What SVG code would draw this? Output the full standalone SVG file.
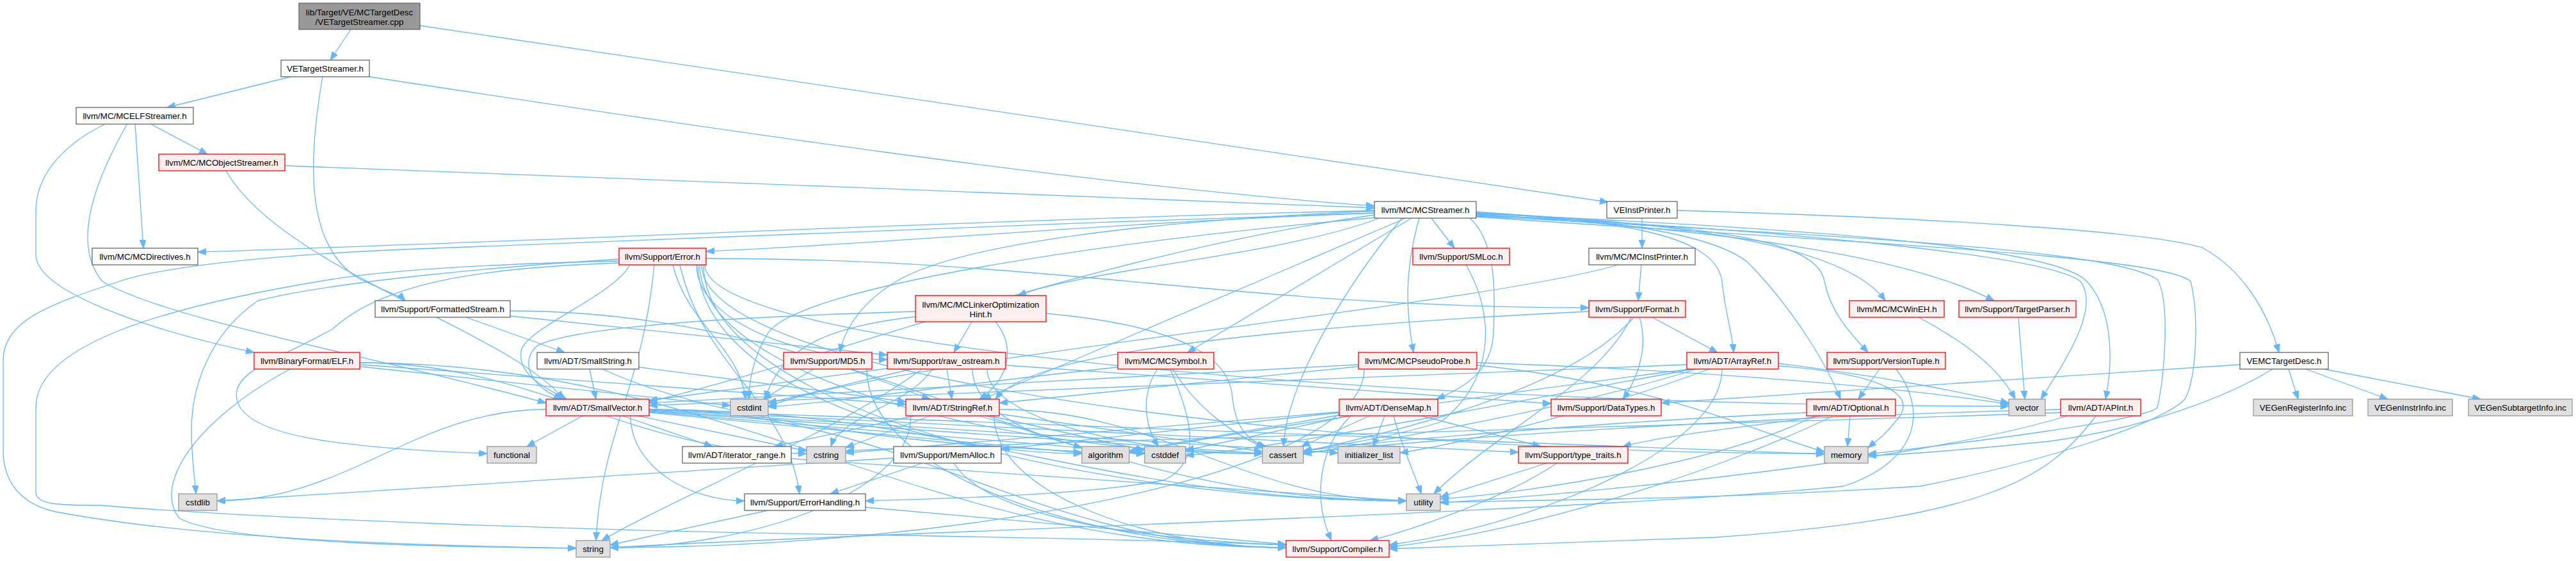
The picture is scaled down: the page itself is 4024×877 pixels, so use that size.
<svg xmlns="http://www.w3.org/2000/svg" width="4024" height="877" viewBox="0 0 4024 877">
<style>
.e{fill:none;stroke:#63b8ff;stroke-width:1.3;marker-end:url(#ah)}
.b rect{fill:#ffffff;stroke:#666666;stroke-width:1.3}
.r rect{fill:#fff0f0;stroke:#ff0000;stroke-width:1.3}
.g rect{fill:#e0e0e0;stroke:#999999;stroke-width:1.3}
.k rect{fill:#999999;stroke:#666666;stroke-width:1.3}
text{font-family:"Liberation Sans",Arial,Helvetica,sans-serif;font-size:13.33px;fill:#000000;text-anchor:middle}
</style>
<defs>
<marker id="ah" markerWidth="14" markerHeight="11" refX="13" refY="5" orient="auto" markerUnits="userSpaceOnUse">
<path d="M0,0 L13,5 L0,10 z" fill="#63b8ff" stroke="#63b8ff" stroke-width="1"/>
</marker>
</defs>
<rect x="0" y="0" width="4024" height="877" fill="#ffffff"/>
<g id="edges">
<path class="e" d="M548,46 L516,94"/>
<path class="e" d="M656,40 L2512,316"/>
<path class="e" d="M458,119 L261,168"/>
<path class="e" d="M577,120 C1100,200 1700,290 2147,322"/>
<path class="e" d="M504,119 C485,230 470,380 560,435 C600,455 625,462 633,470"/>
<path class="e" d="M234,193 L324,241"/>
<path class="e" d="M211,193 L224,388"/>
<path class="e" d="M166,193 C90,230 56,280 56,330 L56,400 C60,460 250,520 397,551"/>
<path class="e" d="M199,193 C150,280 110,380 160,440 C260,500 600,560 853,630"/>
<path class="e" d="M445,259 C900,275 1700,308 2147,325"/>
<path class="e" d="M353,267 C440,420 800,520 880,624"/>
<path class="e" d="M2147,329 C1500,345 900,375 309,394"/>
<path class="e" d="M2147,333 C1700,350 1400,380 1103,393"/>
<path class="e" d="M2155,341 C2000,400 1700,420 1590,462"/>
<path class="e" d="M2217,341 C2195,420 2195,480 2208,551"/>
<path class="e" d="M2236,341 L2272,388"/>
<path class="e" d="M2306,333 C2600,345 2880,380 2945,470"/>
<path class="e" d="M2306,335 C2700,360 2980,400 3115,470"/>
<path class="e" d="M2306,337 C2700,350 2840,380 2850,440 C2860,490 2890,520 2918,551"/>
<path class="e" d="M2306,331 C2500,345 2680,360 2690,440 C2695,490 2706,520 2708,551"/>
<path class="e" d="M2296,341 C2340,380 2335,470 2333,520 C2330,580 2290,605 2244,624"/>
<path class="e" d="M2306,333 C2550,345 2680,370 2730,410 C2790,470 2850,560 2875,624"/>
<path class="e" d="M2306,334 C2900,360 3200,390 3257,437 C3300,480 3302,560 3289,624"/>
<path class="e" d="M2147,336 C1700,400 1300,560 1014,628"/>
<path class="e" d="M2196,341 L1535,624"/>
<path class="e" d="M2205,341 L1855,551"/>
<path class="e" d="M2147,330 C1800,345 1500,380 1400,440 C1350,470 1320,510 1312,551"/>
<path class="e" d="M2190,341 C2100,450 2010,600 2005,698"/>
<path class="e" d="M2150,340 C1700,380 1250,450 1200,520 C1175,560 1170,600 1170,624"/>
<path class="e" d="M2306,338 C2900,370 3300,390 3370,437 C3390,470 3382,587 3370,637 C3350,660 3000,700 2918,710"/>
<path class="e" d="M2147,333 C1600,350 900,380 680,388 C450,396 260,415 186,440 C80,475 5,500 5,564 L5,704 C5,760 40,790 87,800 C300,840 600,852 900,857"/>
<path class="e" d="M2306,339 C2900,380 3380,400 3422,440 C3435,490 3432,590 3413,624 C3380,660 3200,720 3000,760 C2700,780 2400,782 2250,785"/>
<path class="e" d="M2306,336 C2800,360 3200,400 3250,440 C3280,480 3230,560 3188,624"/>
<path class="e" d="M2565,341 L2565,388"/>
<path class="e" d="M2620,329 C3000,340 3350,360 3440,387 C3500,420 3540,480 3560,551"/>
<path class="e" d="M2564,414 L2559,470"/>
<path class="e" d="M2528,414 C2300,480 1400,560 1200,635"/>
<path class="e" d="M3575,577 L3590,624"/>
<path class="e" d="M3602,577 L3730,624"/>
<path class="e" d="M3630,577 L3875,624"/>
<path class="e" d="M3499,570 C3200,590 2800,615 2595,630"/>
<path class="e" d="M3550,577 C3480,620 3350,670 3200,690 C3050,705 2960,712 2918,712"/>
<path class="e" d="M984,414 C960,460 830,510 815,545 C805,585 850,605 885,624"/>
<path class="e" d="M967,408 C800,412 620,420 516,437 C250,480 56,540 56,637 L56,770 C56,790 100,790 156,790 C400,810 900,830 1350,836 C1700,842 1900,848 2009,852"/>
<path class="e" d="M1062,414 C1099,575 1230,629 1249,772"/>
<path class="e" d="M1103,404 C1655,404 1930,481 2482,481"/>
<path class="e" d="M1088,414 C1088,503 1252,562 1386,562"/>
<path class="e" d="M1090,414 C1095,591 1423,709 1690,709"/>
<path class="e" d="M1093,414 C1093,591 1577,709 1972,709"/>
<path class="e" d="M1051,414 C1074,508 1154,540 1165,624"/>
<path class="e" d="M967,405 C800,415 520,440 403,470 C330,520 300,600 299,670 C299,720 305,750 306,772"/>
<path class="e" d="M967,411 C760,418 600,440 520,514 C440,560 360,580 370,624 C380,680 520,700 761,709"/>
<path class="e" d="M1096,414 C1096,591 2060,709 2850,709"/>
<path class="e" d="M1022,414 C1004,608 940,673 931,845"/>
<path class="e" d="M1099,414 C1099,635 1702,783 2197,783"/>
<path class="e" d="M1101,414 C1101,547 2219,635 3138,635"/>
<path class="e" d="M728,496 L882,551"/>
<path class="e" d="M797,494 L1386,555"/>
<path class="e" d="M797,486 C1357,486 1637,783 2197,783"/>
<path class="e" d="M562,570 L1415,632"/>
<path class="e" d="M562,567 C1141,567 1430,856 2009,856"/>
<path class="e" d="M562,573 L1141,634"/>
<path class="e" d="M562,567 C841,567 981,709 1260,709"/>
<path class="e" d="M453,577 C300,660 240,760 280,810 C350,850 700,855 900,857"/>
<path class="e" d="M921,577 L931,624"/>
<path class="e" d="M998,574 L1415,628"/>
<path class="e" d="M941,577 C1100,650 1400,700 1788,709"/>
<path class="e" d="M1328,577 L1453,624"/>
<path class="e" d="M1354,577 C1354,744 1714,856 2009,856"/>
<path class="e" d="M1271,577 L1192,624"/>
<path class="e" d="M972,650 L1113,698"/>
<path class="e" d="M1014,640 C1412,640 1611,856 2009,856"/>
<path class="e" d="M1014,641 L2372,707"/>
<path class="e" d="M1014,645 L1690,708"/>
<path class="e" d="M1014,643 L1972,709"/>
<path class="e" d="M1014,644 L1788,708"/>
<path class="e" d="M853,640 C647,640 545,783 339,783"/>
<path class="e" d="M996,650 L1260,705"/>
<path class="e" d="M910,650 L823,698"/>
<path class="e" d="M1014,642 L2090,708"/>
<path class="e" d="M1014,640 L2850,710"/>
<path class="e" d="M1014,640 C1487,640 1724,783 2197,783"/>
<path class="e" d="M985,650 C985,730 1077,783 1163,783"/>
<path class="e" d="M1236,717 L2197,783"/>
<path class="e" d="M1352,793 L2009,851"/>
<path class="e" d="M1199,798 L953,852"/>
<path class="e" d="M1430,487 C1150,495 900,510 840,540 C815,560 820,600 878,624"/>
<path class="e" d="M1555,503 C1585,540 1580,590 1530,624"/>
<path class="e" d="M1518,503 L1490,551"/>
<path class="e" d="M1634,490 C1850,510 1920,560 1925,620 C1930,670 1950,690 1978,698"/>
<path class="e" d="M1430,495 C1300,510 1220,540 1195,624"/>
<path class="e" d="M1386,576 L1014,626"/>
<path class="e" d="M1479,577 L1487,624"/>
<path class="e" d="M1571,571 L2423,631"/>
<path class="e" d="M1542,577 C1542,656 1778,709 1972,709"/>
<path class="e" d="M1519,577 C1519,656 1667,709 1788,709"/>
<path class="e" d="M1424,577 L1200,630"/>
<path class="e" d="M1456,577 C1424,631 1314,650 1298,698"/>
<path class="e" d="M1440,577 C1300,680 1050,780 940,845"/>
<path class="e" d="M1828,577 C1860,650 1880,720 1820,750 C1700,775 1450,780 1352,783"/>
<path class="e" d="M1832,577 C1870,640 1930,680 1975,700"/>
<path class="e" d="M1808,577 C1780,620 1790,670 1810,698"/>
<path class="e" d="M1746,574 C1500,600 1300,630 1200,636"/>
<path class="e" d="M1429,650 L1210,698"/>
<path class="e" d="M1553,650 C1553,774 1804,856 2009,856"/>
<path class="e" d="M1530,650 L1690,700"/>
<path class="e" d="M1561,647 L1972,706"/>
<path class="e" d="M1546,650 L1788,704"/>
<path class="e" d="M1453,650 L1321,700"/>
<path class="e" d="M1423,650 C1423,774 1164,856 953,856"/>
<path class="e" d="M1561,640 C1815,640 1943,783 2197,783"/>
<path class="e" d="M1490,724 C1530,790 1700,840 2009,852"/>
<path class="e" d="M1441,724 L1297,772"/>
<path class="e" d="M1396,716 L339,783"/>
<path class="e" d="M2581,496 L2683,551"/>
<path class="e" d="M2482,487 C2200,500 1800,530 1650,575 C1600,590 1570,605 1555,624"/>
<path class="e" d="M2561,496 C2575,540 2560,590 2535,624"/>
<path class="e" d="M2552,496 C2480,580 2300,650 2036,706"/>
<path class="e" d="M2548,496 C2500,600 2330,680 2240,772"/>
<path class="e" d="M2122,570 C1700,590 1300,615 1014,630"/>
<path class="e" d="M2122,573 L1561,630"/>
<path class="e" d="M2307,571 C2600,600 2780,690 2850,706"/>
<path class="e" d="M2131,577 C2131,744 1483,856 953,856"/>
<path class="e" d="M2307,567 C2700,580 3000,610 3138,632"/>
<path class="e" d="M2635,570 C2000,590 1400,620 1014,634"/>
<path class="e" d="M2690,577 C2690,700 2400,820 2170,852"/>
<path class="e" d="M2640,577 C2300,620 1900,680 1764,708"/>
<path class="e" d="M2650,577 C2450,640 2150,690 2036,710"/>
<path class="e" d="M2645,577 C2300,640 2000,700 1852,712"/>
<path class="e" d="M2670,577 C2500,640 2300,690 2187,708"/>
<path class="e" d="M2778,572 C2950,585 3000,620 2960,660 C2945,680 2930,690 2918,700"/>
<path class="e" d="M2778,568 C2950,590 3050,610 3138,630"/>
<path class="e" d="M2110,650 C2060,700 2050,780 2080,845"/>
<path class="e" d="M2092,645 L1564,702"/>
<path class="e" d="M2220,650 L2407,698"/>
<path class="e" d="M2140,650 L2033,698"/>
<path class="e" d="M2108,650 L1852,704"/>
<path class="e" d="M2092,649 L1764,705"/>
<path class="e" d="M2092,644 L1321,708"/>
<path class="e" d="M2163,650 L2145,698"/>
<path class="e" d="M2177,650 C2190,700 2210,740 2220,772"/>
<path class="e" d="M2432,724 C2350,780 2200,830 2140,845"/>
<path class="e" d="M2416,724 L2250,777"/>
<path class="e" d="M2290,414 C2340,500 2330,600 2250,660 C2150,690 2060,700 2036,705"/>
<path class="e" d="M2997,496 C3060,530 3120,570 3148,624"/>
<path class="e" d="M3153,496 L3163,624"/>
<path class="e" d="M2936,577 L2903,624"/>
<path class="e" d="M2962,577 C3010,640 3000,720 2880,760 C2500,800 1300,835 953,856"/>
<path class="e" d="M2890,650 L2886,698"/>
<path class="e" d="M2864,650 C2700,730 2400,830 2170,855"/>
<path class="e" d="M2847,650 C2750,665 2600,680 2535,698"/>
<path class="e" d="M2822,645 C2500,660 2150,690 2036,705"/>
<path class="e" d="M2835,650 C2700,720 2400,770 2250,780"/>
<path class="e" d="M3274,650 C3200,750 3100,810 2680,840 C2400,850 2250,855 2170,858"/>
<path class="e" d="M3219,640 C2800,650 2300,680 2036,708"/>
<path class="e" d="M3219,645 C2500,670 1600,690 1321,705"/>
<path class="e" d="M3230,650 C3000,720 2500,770 2250,786"/>
</g>
<g id="node-root" class="k"><rect x="467" y="5" width="189" height="41"/><text x="561.5" y="23.5">lib/Target/VE/MCTargetDesc</text><text x="561.5" y="38.5">/VETargetStreamer.cpp</text></g>
<g id="node-VETargetStreamer" class="b"><rect x="439" y="94" width="138" height="26"/><text x="508" y="111.7">VETargetStreamer.h</text></g>
<g id="node-VEInstPrinter" class="b"><rect x="2510" y="315" width="110" height="26"/><text x="2565" y="332.7">VEInstPrinter.h</text></g>
<g id="node-MCELFStreamer" class="b"><rect x="119" y="168" width="183" height="26"/><text x="210.5" y="185.7">llvm/MC/MCELFStreamer.h</text></g>
<g id="node-MCObjectStreamer" class="r"><rect x="248" y="241" width="197" height="26"/><text x="346.5" y="258.7">llvm/MC/MCObjectStreamer.h</text></g>
<g id="node-MCDirectives" class="b"><rect x="144" y="388" width="165" height="26"/><text x="226.5" y="405.7">llvm/MC/MCDirectives.h</text></g>
<g id="node-MCStreamer" class="b"><rect x="2147" y="315" width="159" height="26"/><text x="2226.5" y="332.7">llvm/MC/MCStreamer.h</text></g>
<g id="node-Error" class="r"><rect x="967" y="388" width="136" height="26"/><text x="1035" y="405.7">llvm/Support/Error.h</text></g>
<g id="node-FormattedStream" class="b"><rect x="586" y="470" width="211" height="26"/><text x="691.5" y="487.7">llvm/Support/FormattedStream.h</text></g>
<g id="node-ELF" class="r"><rect x="397" y="551" width="165" height="26"/><text x="479.5" y="568.7">llvm/BinaryFormat/ELF.h</text></g>
<g id="node-cstdlib" class="g"><rect x="279" y="772" width="60" height="26"/><text x="309" y="789.7">cstdlib</text></g>
<g id="node-SmallString" class="b"><rect x="839" y="551" width="159" height="26"/><text x="918.5" y="568.7">llvm/ADT/SmallString.h</text></g>
<g id="node-MD5" class="r"><rect x="1224" y="551" width="138" height="26"/><text x="1293" y="568.7">llvm/Support/MD5.h</text></g>
<g id="node-SmallVector" class="r"><rect x="853" y="624" width="161" height="26"/><text x="933.5" y="641.7">llvm/ADT/SmallVector.h</text></g>
<g id="node-cstdint" class="g"><rect x="1141" y="624" width="59" height="26"/><text x="1170.5" y="641.7">cstdint</text></g>
<g id="node-functional" class="g"><rect x="761" y="698" width="77" height="26"/><text x="799.5" y="715.7">functional</text></g>
<g id="node-iterator_range" class="b"><rect x="1066" y="698" width="170" height="26"/><text x="1151" y="715.7">llvm/ADT/iterator_range.h</text></g>
<g id="node-cstring" class="g"><rect x="1260" y="698" width="61" height="26"/><text x="1290.5" y="715.7">cstring</text></g>
<g id="node-ErrorHandling" class="b"><rect x="1163" y="772" width="189" height="26"/><text x="1257.5" y="789.7">llvm/Support/ErrorHandling.h</text></g>
<g id="node-string" class="g"><rect x="900" y="845" width="53" height="26"/><text x="926.5" y="862.7">string</text></g>
<g id="node-MCLinkerOptimizationHint" class="r"><rect x="1430" y="462" width="204" height="41"/><text x="1532" y="480.5">llvm/MC/MCLinkerOptimization</text><text x="1532" y="495.5">Hint.h</text></g>
<g id="node-raw_ostream" class="r"><rect x="1386" y="551" width="185" height="26"/><text x="1478.5" y="568.7">llvm/Support/raw_ostream.h</text></g>
<g id="node-MCSymbol" class="r"><rect x="1746" y="551" width="150" height="26"/><text x="1821" y="568.7">llvm/MC/MCSymbol.h</text></g>
<g id="node-StringRef" class="r"><rect x="1415" y="624" width="146" height="26"/><text x="1488" y="641.7">llvm/ADT/StringRef.h</text></g>
<g id="node-MemAlloc" class="b"><rect x="1396" y="698" width="168" height="26"/><text x="1480" y="715.7">llvm/Support/MemAlloc.h</text></g>
<g id="node-algorithm" class="g"><rect x="1690" y="698" width="74" height="26"/><text x="1727" y="715.7">algorithm</text></g>
<g id="node-cstddef" class="g"><rect x="1788" y="698" width="64" height="26"/><text x="1820" y="715.7">cstddef</text></g>
<g id="node-cassert" class="g"><rect x="1972" y="698" width="64" height="26"/><text x="2004" y="715.7">cassert</text></g>
<g id="node-Compiler" class="r"><rect x="2009" y="845" width="161" height="26"/><text x="2089.5" y="862.7">llvm/Support/Compiler.h</text></g>
<g id="node-Format" class="r"><rect x="2482" y="470" width="151" height="26"/><text x="2557.5" y="487.7">llvm/Support/Format.h</text></g>
<g id="node-MCPseudoProbe" class="r"><rect x="2122" y="551" width="185" height="26"/><text x="2214.5" y="568.7">llvm/MC/MCPseudoProbe.h</text></g>
<g id="node-ArrayRef" class="r"><rect x="2635" y="551" width="143" height="26"/><text x="2706.5" y="568.7">llvm/ADT/ArrayRef.h</text></g>
<g id="node-DenseMap" class="r"><rect x="2092" y="624" width="154" height="26"/><text x="2169" y="641.7">llvm/ADT/DenseMap.h</text></g>
<g id="node-DataTypes" class="r"><rect x="2423" y="624" width="172" height="26"/><text x="2509" y="641.7">llvm/Support/DataTypes.h</text></g>
<g id="node-initializer_list" class="g"><rect x="2090" y="698" width="97" height="26"/><text x="2138.5" y="715.7">initializer_list</text></g>
<g id="node-type_traits" class="r"><rect x="2372" y="698" width="171" height="26"/><text x="2457.5" y="715.7">llvm/Support/type_traits.h</text></g>
<g id="node-utility" class="g"><rect x="2197" y="772" width="53" height="26"/><text x="2223.5" y="789.7">utility</text></g>
<g id="node-SMLoc" class="r"><rect x="2207" y="388" width="151" height="26"/><text x="2282.5" y="405.7">llvm/Support/SMLoc.h</text></g>
<g id="node-MCInstPrinter" class="b"><rect x="2482" y="388" width="166" height="26"/><text x="2565" y="405.7">llvm/MC/MCInstPrinter.h</text></g>
<g id="node-MCWinEH" class="r"><rect x="2889" y="470" width="148" height="26"/><text x="2963" y="487.7">llvm/MC/MCWinEH.h</text></g>
<g id="node-TargetParser" class="r"><rect x="3060" y="470" width="183" height="26"/><text x="3151.5" y="487.7">llvm/Support/TargetParser.h</text></g>
<g id="node-VersionTuple" class="r"><rect x="2854" y="551" width="185" height="26"/><text x="2946.5" y="568.7">llvm/Support/VersionTuple.h</text></g>
<g id="node-Optional" class="r"><rect x="2822" y="624" width="139" height="26"/><text x="2891.5" y="641.7">llvm/ADT/Optional.h</text></g>
<g id="node-vector" class="g"><rect x="3138" y="624" width="57" height="26"/><text x="3166.5" y="641.7">vector</text></g>
<g id="node-APInt" class="r"><rect x="3219" y="624" width="125" height="26"/><text x="3281.5" y="641.7">llvm/ADT/APInt.h</text></g>
<g id="node-memory" class="g"><rect x="2850" y="698" width="68" height="26"/><text x="2884" y="715.7">memory</text></g>
<g id="node-VEMCTargetDesc" class="b"><rect x="3499" y="551" width="138" height="26"/><text x="3568" y="568.7">VEMCTargetDesc.h</text></g>
<g id="node-VEGenRegisterInfo" class="g"><rect x="3520" y="624" width="155" height="26"/><text x="3597.5" y="641.7">VEGenRegisterInfo.inc</text></g>
<g id="node-VEGenInstrInfo" class="g"><rect x="3699" y="624" width="132" height="26"/><text x="3765" y="641.7">VEGenInstrInfo.inc</text></g>
<g id="node-VEGenSubtargetInfo" class="g"><rect x="3856" y="624" width="162" height="26"/><text x="3937" y="641.7">VEGenSubtargetInfo.inc</text></g>
</svg>
